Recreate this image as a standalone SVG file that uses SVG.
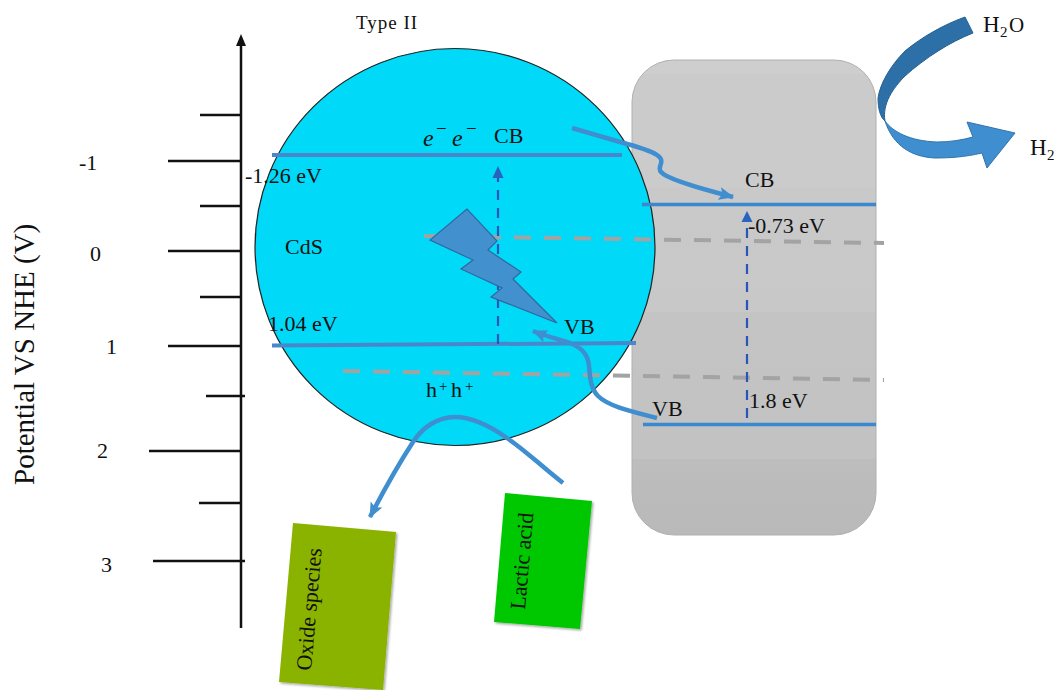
<svg xmlns="http://www.w3.org/2000/svg" width="1056" height="690" viewBox="0 0 1056 690">
<defs>
<linearGradient id="g" x1="0" y1="0" x2="0" y2="1"><stop offset="0.03" stop-color="#cecece"/><stop offset="0.03" stop-color="#cbcbcb"/><stop offset="0.27" stop-color="#cbcbcb"/><stop offset="0.27" stop-color="#c9c9c9"/><stop offset="0.53" stop-color="#c8c8c8"/><stop offset="0.53" stop-color="#c4c4c4"/><stop offset="0.84" stop-color="#c2c2c2"/><stop offset="0.84" stop-color="#bdbdbd"/><stop offset="1" stop-color="#b9b9b9"/></linearGradient>
<marker id="ab" markerWidth="16" markerHeight="14" refX="14" refY="6.500" orient="auto" markerUnits="userSpaceOnUse"><path d="M0 0L15 6.500L0 13L3 6.500Z" fill="#3e8ed0"/></marker>
<filter id="sh" x="-5%" y="-5%" width="112%" height="112%"><feDropShadow dx="1.500" dy="1.500" stdDeviation="1.200" flood-color="#000" flood-opacity="0.35"/></filter>
</defs>
<style>
text{font-family:"Liberation Serif","Times New Roman",serif;fill:#111;font-size:22px}
.tick{stroke:#111;stroke-width:2.5;fill:none}
.band{stroke:#4a86cc;stroke-width:4;fill:none}
.bandr{stroke:#3a88d0;stroke-width:3.5;fill:none}
.gap{stroke:#a3a3a3;stroke-width:4;stroke-dasharray:17 13;fill:none}
.flow{stroke:#3e8ed0;stroke-width:4.500;fill:none;stroke-linecap:butt}
.dash{stroke:#2a55b8;stroke-width:2.200;stroke-dasharray:10 8;fill:none}
.sup{font-size:15px}
.it{font-style:italic;font-size:24px}
</style>
<g id="right-semiconductor"><rect x="632" y="60" width="244" height="475" rx="42" fill="url(#g)" stroke="#b0b0b0" stroke-width="1"/></g>
<g id="cds-sphere"><ellipse cx="455" cy="247" rx="200" ry="198.500" fill="#00daf8" stroke="#222" stroke-width="1.200"/><text x="285" y="254">CdS</text></g>
<g id="axis">
<path class="tick" d="M241 45V628"/><path d="M241 34L246 46H236Z" fill="#111"/>
<path class="tick" d="M200 115H241M168 161H241M200 206H241M168 251H241M200 297H241M168 346H241M206 396H245M149 451H241M199 503H241M153 561H245"/>
<text x="79" y="170">-1</text><text x="90" y="261">0</text><text x="106" y="354">1</text><text x="97" y="458">2</text><text x="101" y="572">3</text>
<text transform="translate(34,485) rotate(-90)" style="font-size:29px">Potential VS NHE (V)</text>
</g>
<g id="connectors">
<path class="band" d="M272 155H622"/><path class="band" d="M272 345.500L636 343"/>
<path class="bandr" d="M642 204.500H876"/><path class="bandr" d="M643 424.500H876"/>
<path class="gap" d="M424 236L884 243"/><path class="gap" d="M343 371L884 380"/>
<path class="dash" d="M498 344V172"/><path d="M498 166L503.500 178H492.500Z" fill="#2a62c0"/>
<path class="dash" d="M747 418V226"/><path d="M747 211L752.500 222H741.500Z" fill="#2a62c0"/>
<path class="flow" d="M572 128L620 142C635 146 650 150 657 155C667 162 656 166 661 172C666 178 690 186 733 197" marker-end="url(#ab)"/>
<path class="flow" d="M657 418C630 411 608 406 598 396C590 388 590 376 589 366C588 352 578 346 570 343C558 339 545 336 533 331" marker-end="url(#ab)"/>
<path class="flow" d="M563 483C540 465 525 450 507 438C490 426 472 417 455 417C437 417 422 428 413 442C400 462 384 490 370 517" marker-end="url(#ab)"/>
</g>
<g id="lightning"><path d="M467 209L430 240L473 260L461 269L502 288L491 297L557 323L513 279L521 272L488 250L497 241Z" fill="#4390cf" stroke="#2d6a9f" stroke-width="1.200"/></g>
<g id="water-arrow">
<path d="M885 121C893 132 910 141 937 142C950 142 962 140 973 137L967 122L1015 133L987 168L982 153C965 157 950 158 935 158C912 157 893 146 885 121Z" fill="#3f8fd0" stroke="#2f74ad" stroke-width="1"/>
<path d="M965 17L973 33C950 42 925 58 905 76C893 88 882 104 885 121C880 117 878 108 878 98C880 84 890 66 905 51C922 37 943 25 965 17Z" fill="#2d70a8" stroke="#24608f" stroke-width="1"/>
</g>
<g id="oxide-species"><path d="M293 523L396 532L383 690L279 682Z" fill="#8ab300" filter="url(#sh)"/><text transform="translate(311,671) rotate(-85)">Oxide species</text></g>
<g id="lactic-acid"><path d="M505 493L592 501L580 629L494 622Z" fill="#00c800" filter="url(#sh)"/><text transform="translate(525,610) rotate(-85)">Lactic acid</text></g>
<g id="labels">
<text x="356" y="29" style="font-size:19px;letter-spacing:1px">Type II</text>
<text x="423" y="146" class="it">e</text><text x="436" y="135" class="sup" style="font-size:19px">−</text>
<text x="452" y="146" class="it">e</text><text x="466" y="135" class="sup" style="font-size:19px">−</text>
<text x="494" y="143">CB</text>
<text x="245" y="183">-1.26 eV</text><text x="268" y="331">1.04 eV</text><text x="564" y="334">VB</text>
<text x="426" y="397">h</text><text x="439" y="391" class="sup">+</text><text x="451" y="397">h</text><text x="465" y="391" class="sup">+</text>
<text x="745" y="187">CB</text><text x="748" y="233">-0.73 eV</text><text x="652" y="416">VB</text><text x="749" y="408">1.8 eV</text>
<text x="983" y="32" style="font-size:23px">H</text><text x="1000" y="37" class="sup">2</text><text x="1009" y="32" style="font-size:21px">O</text>
<text x="1030" y="155" style="font-size:23px">H</text><text x="1047" y="160" class="sup">2</text>
</g>
</svg>
